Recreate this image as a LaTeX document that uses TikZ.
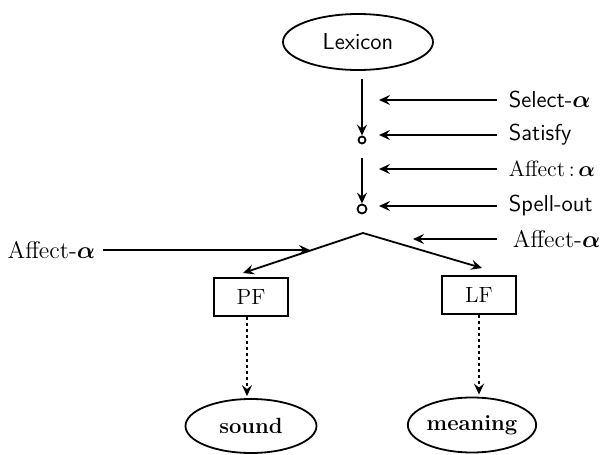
\documentclass[tikz,border=0pt]{standalone}
\usepackage{amsmath}
\usetikzlibrary{arrows.meta,shapes.geometric,calc}

\begin{document}
\begin{tikzpicture}[x=0.5pt,y=-0.5pt,line width=0.9pt,
  arr/.style={-{Stealth[length=5.5pt,width=5pt,inset=2pt]}},
  oval/.style={ellipse,draw,inner sep=0pt},
  box/.style={rectangle,draw,inner sep=0pt,minimum width=37pt,minimum height=19pt,
    font=\fontsize{11}{13}\selectfont},
  knot/.style={circle,draw,inner sep=0pt},
  sanslab/.style={inner sep=0pt,anchor=west,font=\sffamily\fontsize{11.5}{13}\selectfont},
  seriflab/.style={inner sep=0pt,anchor=west,font=\fontsize{12}{14}\selectfont},
  dots/.style={dash pattern=on 1.6pt off 1.4pt},
  endfont/.style={font=\bfseries\fontsize{11}{13}\selectfont}]
\useasboundingbox (0,0) rectangle (607,455);

% derivation spine
\node[oval,minimum width=75pt,minimum height=28pt,
      font=\sffamily\fontsize{11.5}{13}\selectfont] (lex) at (358,42) {Lexicon};
\node[knot,minimum size=3.5pt] (c1) at (362,140) {};
\node[knot,minimum size=4.5pt] (c2) at (362,209) {};
\coordinate (apex) at (363,233);
\coordinate (pfin) at (243,273);
\coordinate (lfin) at (482,268);

% interface levels and their interpretations
\node[box] (pf) at (251,297) {PF};
\node[box] (lf) at (479,295) {LF};
\node[oval,endfont,minimum width=65.5pt,minimum height=27pt] (sound) at (251,426) {sound};
\node[oval,endfont,minimum width=57.5pt,minimum height=27.5pt] (meaning) at (472,425) {meaning};

% operation labels
\node[sanslab] (sel) at (508,100) {Select-$\boldsymbol\alpha$};
\node[sanslab] (sat) at (508,135) {Satisfy};
\node[seriflab,font=\fontsize{11}{13}\selectfont] (aff1) at (508,169) {Affect\,:\,$\boldsymbol\alpha$};
\node[sanslab] (spl) at (508,206) {Spell-out};
\node[seriflab] (aff2) at (512,239) {Affect-$\boldsymbol\alpha$};
\node[seriflab,anchor=east] (aff3) at (96,250) {Affect-$\boldsymbol\alpha$};

% arrow tip columns
\coordinate (tipcol) at (379,0);
\coordinate (rtip) at (413,0);
\coordinate (ltip) at (310,0);

% spine arrows
\draw[arr] ([yshift=-4pt]c1 |- lex.south) -- (c1.north);
\draw[arr] ([yshift=-7pt]c1.south) -- (c2.north);
\draw[arr] (apex) -- (pfin);
\draw[arr] (apex) -- (lfin);

% operation arrows
\draw[arr] ([xshift=-5.5pt]sel.west) -- (sel.west -| tipcol);
\draw[arr] ([xshift=-5.5pt]sat.west) -- (sat.west -| tipcol);
\draw[arr] ([xshift=-5.5pt]aff1.west) -- (aff1.west -| tipcol);
\draw[arr] ([xshift=-5.5pt]spl.west) -- (spl.west -| tipcol);
\draw[arr] ([xshift=-7.5pt]aff2.west) -- (aff2.west -| rtip);
\draw[arr] ([xshift=3.5pt]aff3.east) -- (aff3.east -| ltip);

% interpretation arrows
\draw[arr,dots] ([xshift=-2pt]pf.south) -- ([xshift=-2pt,yshift=1pt]sound.north);
\draw[arr,dots] (lf.south) -- ([yshift=1pt]lf.south |- meaning.north);
\end{tikzpicture}
\end{document}
